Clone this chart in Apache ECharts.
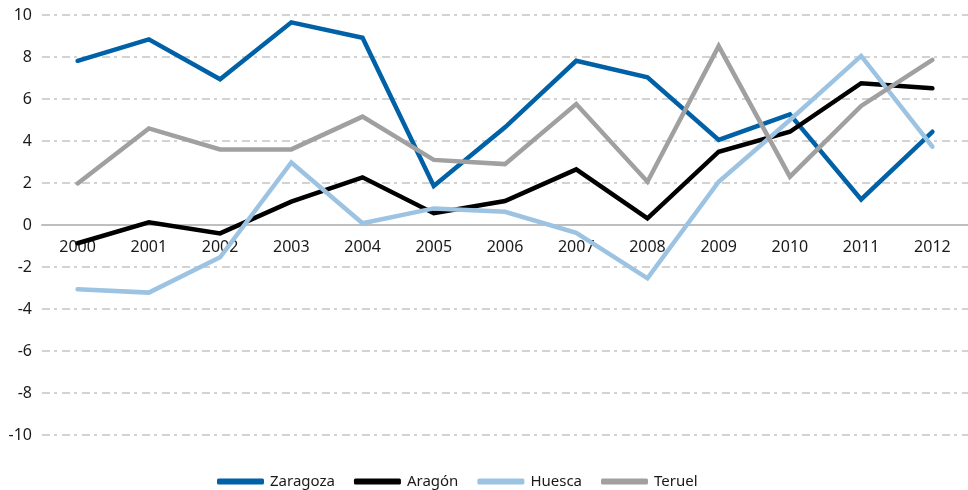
<!DOCTYPE html>
<html>
<head>
<meta charset="utf-8">
<script src="https://cdn.jsdelivr.net/npm/echarts@6/dist/echarts.min.js"></script>
<style>
  html, body { margin: 0; padding: 0; background: #fff; }
  #chart { width: 968px; height: 490px; }
</style>
</head>
<body>
<div id="chart"></div>
<script>
// years on the x axis
const years = ['2000', '2001', '2002', '2003', '2004', '2005', '2006',
  '2007', '2008', '2009', '2010', '2011', '2012'];

// values
const zaragoza = [7.82, 8.84, 6.94, 9.65, 8.92, 1.86, 4.65, 7.82, 7.03, 4.05, 5.27, 1.22, 4.44];
const aragon = [-0.87, 0.13, -0.4, 1.11, 2.27, 0.56, 1.14, 2.65, 0.32, 3.49, 4.44, 6.75, 6.51];
const huesca = [-3.06, -3.22, -1.54, 2.98, 0.08, 0.79, 0.63, -0.37, -2.54, 2.06, 5.0, 8.05, 3.73];
const teruel = [1.98, 4.6, 3.6, 3.6, 5.16, 3.1, 2.9, 5.76, 2.06, 8.52, 2.3, 5.67, 7.86];

const chart = echarts.init(document.getElementById('chart'));

const mkLine = (name, data, color) => ({
  name: name,
  type: 'line',
  data: data,
  symbol: 'none',
  lineStyle: { width: 4.5, color: color, cap: 'round', join: 'miter' },
  itemStyle: { color: color },
});

const option = {
  animation: false,
  textStyle: { fontFamily: 'Noto Sans' },
  grid: { left: 42, right: 0, top: 15, bottom: 55 },
  legend: {
    left: 212,
    top: 469,
    itemWidth: 47,
    itemHeight: 6,
    itemGap: 19,
    icon: 'roundRect',
    textStyle: { fontSize: 15, color: '#1a1a1a', padding: [0, 0, 0, 1] },
    data: ['Zaragoza', 'Aragón', 'Huesca', 'Teruel'],
  },
  xAxis: {
    type: 'category',
    data: years,
    boundaryGap: true,
    // the axis sits on the zero line (grid height 420, zero in the middle)
    offset: -210,
    axisLine: { onZero: false, lineStyle: { color: '#bfbfbf', width: 2 } },
    axisTick: { show: false },
    axisLabel: { fontSize: 16, color: '#1a1a1a', margin: 14 },
  },
  yAxis: {
    type: 'value',
    min: -10,
    max: 10,
    interval: 2,
    axisLine: { show: false },
    axisTick: { show: false },
    axisLabel: { fontSize: 16, color: '#1a1a1a', margin: 10 },
    splitLine: {
      lineStyle: { color: '#c4c4c4', width: 1.5, type: [8, 4, 3, 5] },
    },
  },
  series: [
    mkLine('Zaragoza', zaragoza, '#0061a6'),
    mkLine('Aragón', aragon, '#000000'),
    mkLine('Huesca', huesca, '#9cc3e2'),
    mkLine('Teruel', teruel, '#a0a0a0'),
  ],
};

chart.setOption(option);
</script>
</body>
</html>
